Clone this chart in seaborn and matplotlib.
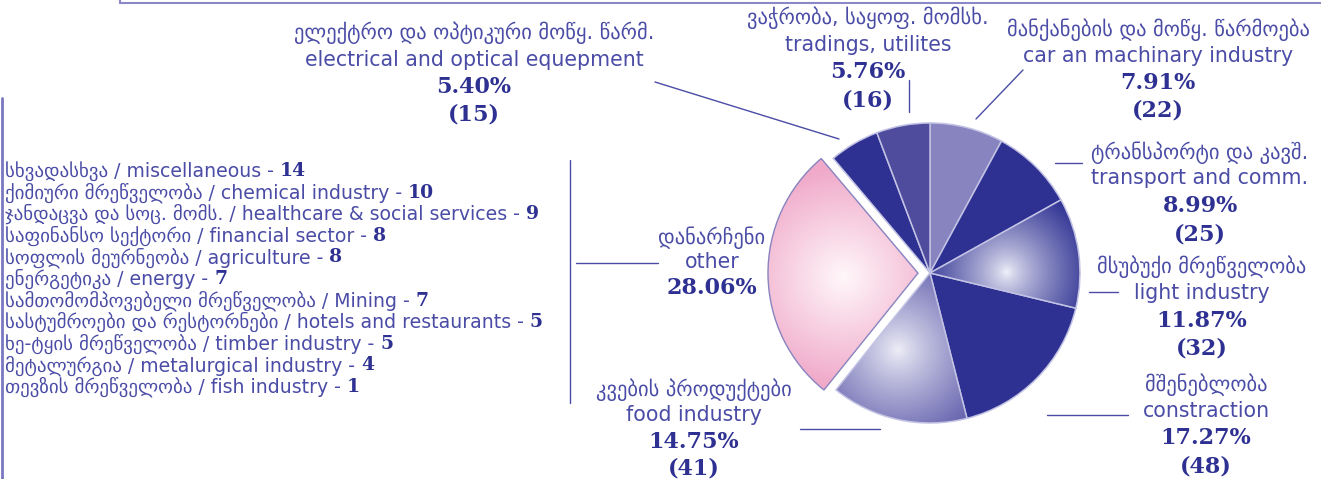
import numpy as np
import matplotlib
matplotlib.use("Agg")
import matplotlib.pyplot as plt
import seaborn as sns
from matplotlib.colors import LinearSegmentedColormap

# ---------------- data ----------------
sectors_ka = ["მანქანების და მოწყ. წარმოება", "ტრანსპორტი და კავშ.", "მსუბუქი მრეწველობა",
              "მშენებლობა", "კვების პროდუქტები", "დანარჩენი",
              "ელექტრო და ოპტიკური მოწყ. წარმ.", "ვაჭრობა, საყოფ. მომსხ."]
sectors_en = ["car an machinary industry", "transport and comm.", "light industry",
              "constraction", "food industry", "other",
              "electrical and optical equepment", "tradings, utilites"]
shares = [7.91, 8.99, 11.87, 17.27, 14.75, 28.06, 5.40, 5.76]
counts = [22, 25, 32, 48, 41, None, 15, 16]

other_ka = ["სხვადასხვა", "ქიმიური მრეწველობა", "ჯანდაცვა და სოც. მომს.", "საფინანსო სექტორი",
            "სოფლის მეურნეობა", "ენერგეტიკა", "სამთომომპოვებელი მრეწველობა",
            "სასტუმროები და რესტორნები", "ხე-ტყის მრეწველობა", "მეტალურგია", "თევზის მრეწველობა"]
other_en = ["miscellaneous", "chemical industry", "healthcare & social services", "financial sector",
            "agriculture", "energy", "Mining", "hotels and restaurants", "timber industry",
            "metalurgical industry", "fish industry"]
other_counts = [14, 10, 9, 8, 8, 7, 7, 5, 5, 4, 1]

# ---------------- style ----------------
sns.set_theme(style="white")
plt.rcParams['font.family'] = ['DejaVu Sans']

NAVY = "#2e3192"
TXT = "#4a4ca6"
LINE = "#4b4ca6"
LAV = "#8784c0"
slice_colors = sns.color_palette([LAV, NAVY, NAVY, NAVY, "#5a57a6", "#f3b3cf", NAVY, "#4f4c9e"])
explode = [0, 0, 0, 0, 0, 12, 0, 0]

W, H = 1321, 479
def Y(py):
    return H - py

fig = plt.figure(figsize=(W / 100, H / 100), dpi=100)
ax = fig.add_axes([0, 0, 1, 1])

CX, CY, R = 930, Y(273), 150
wedges, _ = ax.pie(shares, startangle=90, counterclock=False, colors=slice_colors,
                   center=(CX, CY), radius=R, explode=explode, frame=True,
                   wedgeprops=dict(edgecolor="#c2c2e4", linewidth=1.1))
wedges[5].set_edgecolor(LAV)
wedges[5].set_linewidth(1.0)

# radial gradients for three slices
def radial(wedge, hx, hy, rad, c_in, c_out, gamma=1.0):
    ext = [CX - 180, CX + 180, CY - 180, CY + 180]
    xs = np.linspace(ext[0], ext[1], 360)
    ys = np.linspace(ext[2], ext[3], 360)
    XX, YY = np.meshgrid(xs, ys)
    d = np.clip(np.hypot(XX - hx, YY - hy) / rad, 0, 1) ** gamma
    cmap = LinearSegmentedColormap.from_list("g", [c_in, c_out])
    im = ax.imshow(d, cmap=cmap, vmin=0, vmax=1, extent=ext, origin="lower",
                   zorder=1.5, interpolation="bilinear")
    im.set_clip_path(wedge)
    wedge.set_facecolor("none")
    wedge.set_zorder(2)

radial(wedges[2], 1007, Y(272), 90, "#f4f4fb", NAVY, 0.75)
radial(wedges[4], 898, Y(350), 120, "#efeff8", "#4a479f", 0.85)
radial(wedges[5], 843, Y(277), 110, "#fff7fa", "#f0a9c9", 1.0)

ax.set_xlim(0, W)
ax.set_ylim(0, H)
ax.set_aspect("auto")
ax.axis("off")

# ---------------- labels ----------------
label_pos = [  # x center, y of lines (px from top)
    (1158, [30, 56, 83, 110]),
    (1200, [153, 178, 206, 234]),
    (1202, [267, 293, 321, 348]),
    (1206, [385, 411, 438, 466]),
    (694, [390, 415, 442, 468]),
    (712, [238, 262, 288]),
    (474, [33, 60, 87, 114]),
    (868, [18, 45, 72, 100]),
]
FS = 14.8
BFS = 16
for ka, en, s, c, (x, ys) in zip(sectors_ka, sectors_en, shares, counts, label_pos):
    ax.text(x, Y(ys[0]), ka, ha="center", va="center", fontsize=FS, color=TXT)
    ax.text(x, Y(ys[1]), en, ha="center", va="center", fontsize=FS, color=TXT)
    ax.text(x, Y(ys[2]), f"{s:.2f}%", ha="center", va="center", fontsize=BFS,
            color=NAVY, family="DejaVu Serif", fontweight="bold")
    if c is not None:
        ax.text(x, Y(ys[3]), f"({c})", ha="center", va="center", fontsize=BFS,
                color=NAVY, family="DejaVu Serif", fontweight="bold")

# leader lines
leaders = [
    ((1023, 70), (976, 119)),
    ((1055, 163), (1082, 163)),
    ((1089, 292), (1118, 292)),
    ((1047, 415), (1128, 415)),
    ((800, 429), (880, 429)),
    ((576, 263), (658, 263)),
    ((655, 82), (839, 139)),
    ((909, 80), (909, 112)),
]
for (x0, y0), (x1, y1) in leaders:
    ax.plot([x0, x1], [Y(y0), Y(y1)], color=LINE, lw=1.0)

# list of "other" sectors
for i, (ka, en, n) in enumerate(zip(other_ka, other_en, other_counts)):
    yy = Y(171 + i * 21.6)
    t = ax.text(5, yy, f"{ka} / {en} - ", ha="left", va="center", fontsize=13.6, color=TXT)
    ax.annotate(str(n), xy=(1, 0.5), xycoords=t, xytext=(0, 0), textcoords="offset points",
                ha="left", va="center", fontsize=13.5, color=NAVY,
                family="DejaVu Serif", fontweight="bold")

ax.plot([570, 570], [Y(160), Y(403)], color=LINE, lw=1.0)
ax.plot([1.5, 1.5], [Y(98), Y(479)], color="#7a78c0", lw=2.0)
ax.plot([120, W], [Y(3), Y(3)], color="#8a88c8", lw=1.5)
ax.plot([120, 120], [Y(3), H], color="#8a88c8", lw=1.5)

fig.savefig("out.png", dpi=100, facecolor="white")
